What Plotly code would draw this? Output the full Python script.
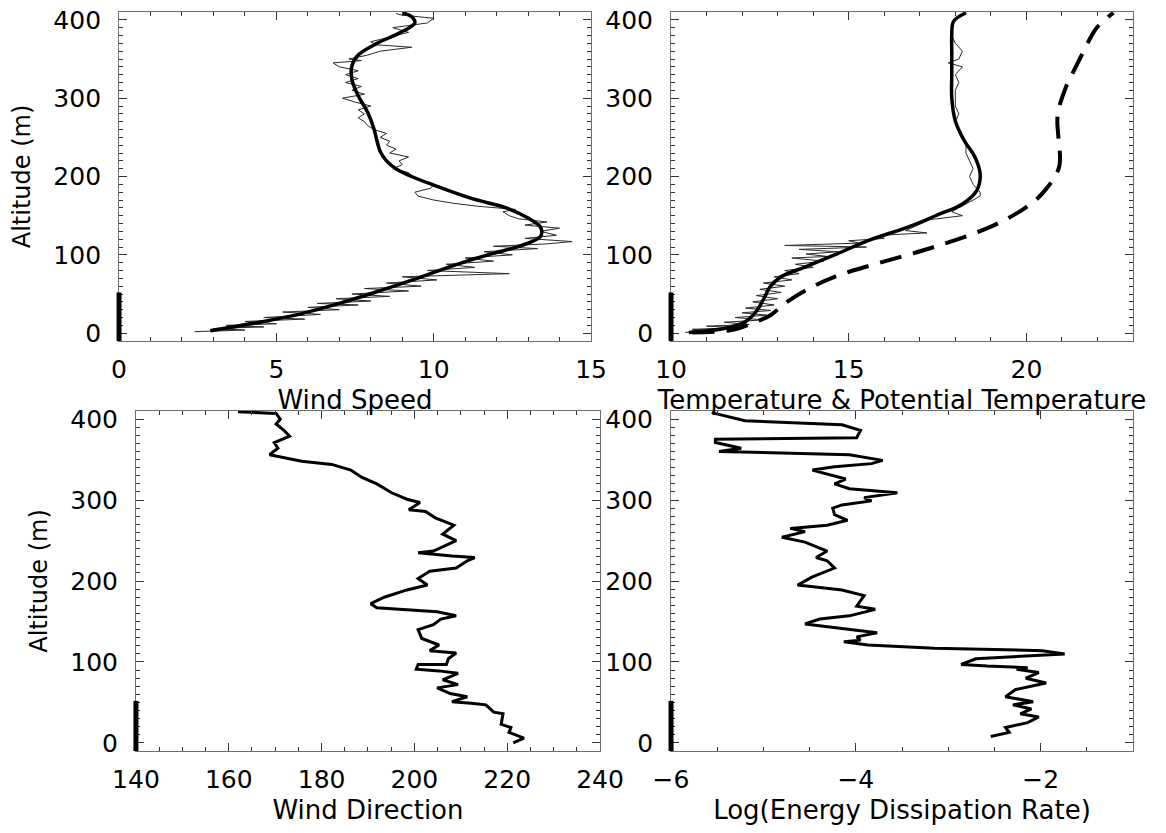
import plotly.graph_objects as go

# ---------------- Data ----------------
# Panel 1: wind speed (raw + smoothed fit)
ws_raw_alt = [2, 4, 6, 8, 10, 12, 15, 18, 20, 24, 27, 30, 33, 36, 38, 41, 44, 47, 50, 54,
              57, 60, 64, 68, 72, 76, 80, 84, 88, 92, 96, 100, 104, 108, 111, 114, 117, 121, 125, 130,
              134, 138, 142, 146, 150, 155, 158, 162, 166, 170, 175, 180, 185, 190, 195, 200, 205, 210, 215, 220,
              225, 230, 235, 240, 245, 250, 255, 260, 265, 270, 275, 280, 285, 290, 295, 300, 305, 310, 315, 320,
              325, 330, 335, 340, 345, 348, 350, 355, 360, 365, 368, 372, 378, 384, 390, 396, 402, 406, 408]
ws_raw = [2.4, 4.0, 3.0, 4.6, 3.4, 5.0, 4.0, 5.9, 4.6, 6.4, 5.2, 7.0, 6.0, 7.6, 6.3, 8.0, 6.9, 8.6, 7.4, 9.2,
          7.8, 9.6, 8.5, 10.1, 9.0, 12.4, 9.8, 11.3, 10.4, 11.9, 11.0, 12.5, 11.6, 13.3, 11.9, 13.6, 14.4, 12.9, 13.9, 13.4,
          14.0, 12.9, 13.6, 12.7, 12.4, 12.2, 12.6, 11.4, 10.6, 10.0, 9.5, 9.4, 9.9, 10.0, 9.6, 9.3, 9.2, 8.7, 9.0, 8.9,
          9.2, 8.6, 8.8, 8.5, 8.6, 8.3, 8.5, 8.1, 7.9, 7.8, 7.6, 7.8, 7.6, 8.0, 7.5, 7.1, 7.8, 7.4, 7.7, 7.2,
          7.6, 7.2, 7.6, 7.0, 6.8, 7.7, 7.3, 7.9, 8.3, 9.3, 8.2, 8.0, 8.6, 9.2, 8.7, 9.8, 10.0, 9.0, 8.8]
ws_fit_alt = [3, 15, 25, 38, 53, 69, 86, 101, 112, 124, 135, 147, 160, 172, 189, 200, 210, 220, 232, 245,
              261, 282, 303, 324, 341, 355, 370, 383, 396, 404, 409]
ws_fit = [2.9, 4.6, 5.8, 7.0, 8.2, 9.4, 10.6, 11.8, 12.8, 13.4, 13.4, 13.0, 12.3, 11.2, 10.0, 9.3, 8.8, 8.5, 8.3, 8.2,
          8.1, 7.9, 7.6, 7.4, 7.4, 7.6, 8.2, 8.9, 9.4, 9.3, 9.0]

# Panel 2: temperature (raw + fit) and potential temperature (dashed)
t_raw_alt = [1, 3, 5, 7, 9, 11, 14, 17, 20, 23, 26, 29, 32, 36, 40, 44, 48, 52, 56, 60,
             64, 68, 72, 76, 80, 84, 88, 92, 96, 98, 101, 104, 107, 110, 112, 115, 118, 121, 125, 128,
             131, 135, 140, 145, 150, 155, 160, 165, 170, 175, 180, 185, 190, 200, 210, 220, 230, 240, 250, 260,
             270, 280, 290, 300, 310, 320, 330, 340, 345, 350, 360, 370, 380, 390, 400, 408]
t_raw = [10.4, 11.3, 10.6, 11.9, 11.0, 12.2, 11.5, 12.6, 11.8, 12.7, 12.0, 12.8, 12.1, 12.9, 12.3, 13.0, 12.4, 13.1, 12.5, 13.2,
         12.6, 13.4, 12.9, 13.6, 13.2, 14.0, 13.5, 14.3, 13.4, 14.4, 13.8, 14.7, 13.6, 15.5, 13.2, 15.3, 15.0, 16.0, 15.9, 17.2,
         16.6, 16.8, 17.1, 17.3, 18.2, 17.9, 18.1, 18.3, 18.5, 18.7, 18.7, 18.6, 18.5, 18.4, 18.5, 18.4, 18.3, 18.3, 18.2, 18.1,
         18.0, 18.1, 18.0, 18.0, 18.0, 18.1, 18.0, 18.2, 17.8, 18.1, 18.2, 18.0, 17.9, 17.9, 18.0, 18.3]
t_fit_alt = [1, 6, 15, 28, 43, 60, 72, 85, 100, 119, 136, 151, 165, 182, 203, 225, 246, 271, 300,
             331, 361, 382, 398, 409]
t_fit = [10.5, 11.5, 12.1, 12.4, 12.6, 12.8, 13.1, 13.8, 14.6, 15.6, 16.7, 17.5, 18.2, 18.6, 18.7, 18.55, 18.25, 18.0, 17.9,
         17.9, 17.9, 17.9, 17.95, 18.3]
theta_alt = [1, 4, 13, 23, 38, 55, 72, 89, 110, 136, 161, 181, 212, 250, 270, 285, 300, 315, 330, 350, 370, 390, 409]
theta = [10.6, 11.7, 12.3, 12.8, 13.2, 13.8, 14.6, 15.8, 17.4, 19.0, 20.0, 20.5, 20.92, 20.9, 20.87, 20.9, 21.0, 21.12,
         21.28, 21.5, 21.72, 21.98, 22.45]

# Panel 3: wind direction
wd_alt = [0, 6, 13, 19, 23, 36, 38, 47, 49, 51, 57, 61, 68, 72, 78, 86, 89, 91, 97, 97,
          104, 111, 114, 121, 129, 140, 146, 153, 157, 162, 167, 172, 180, 189, 195, 203, 212, 216, 225, 229,
          231, 235, 237, 250, 258, 269, 278, 286, 288, 297, 301, 309, 320, 328, 337, 344, 348, 356, 364, 371,
          379, 386, 394, 400, 407, 409]
wd = [221.3, 223.6, 220.4, 220.8, 218.7, 219.1, 217.1, 215.4, 212.2, 208.1, 211.4, 207.7, 204.9, 209.4, 206.1, 209.4, 205.3, 200.4, 200.8, 206.9,
      207.3, 209.0, 203.3, 205.3, 201.6, 200.8, 204.1, 205.7, 209.0, 204.9, 191.9, 190.6, 193.5, 198.4, 202.8, 200.8, 203.3, 209.0, 211.4, 213.0,
      208.1, 200.8, 204.1, 209.0, 206.1, 208.5, 204.5, 202.4, 198.8, 201.2, 198.4, 195.1, 191.9, 188.7, 186.3, 182.2, 175.7, 168.8, 170.6, 169.8,
      173.1, 171.9, 170.2, 171.1, 170.2, 162.0]

# Panel 4: log energy dissipation rate
ed_alt = [8, 13, 19, 25, 32, 36, 42, 47, 51, 57, 66, 74, 80, 87, 91, 93, 95, 97, 104, 108,
          110, 114, 117, 121, 125, 127, 131, 136, 140, 144, 147, 153, 157, 165, 169, 182, 189, 195, 205, 216,
          225, 229, 237, 248, 254, 261, 265, 269, 275, 282, 290, 294, 299, 303, 309, 314, 320, 326, 337, 341,
          345, 349, 356, 360, 364, 371, 375, 377, 386, 393, 398, 408]
ed = [-2.54, -2.34, -2.38, -2.14, -2.02, -2.22, -2.10, -2.30, -2.08, -2.38, -2.27, -1.94, -2.16, -2.02, -2.26, -2.14, -2.58, -2.86, -2.70, -2.14,
      -1.74, -1.98, -3.15, -3.87, -4.13, -3.95, -3.99, -3.77, -4.07, -4.39, -4.55, -4.39, -4.07, -3.79, -3.99, -3.91, -4.15, -4.63, -4.47, -4.23,
      -4.31, -4.43, -4.31, -4.55, -4.80, -4.55, -4.71, -4.31, -4.09, -4.23, -4.25, -4.15, -3.83, -3.91, -3.55, -4.07, -4.23, -4.11, -4.47, -4.23,
      -3.83, -3.71, -4.07, -5.48, -5.24, -5.52, -5.52, -3.99, -3.95, -4.15, -5.20, -5.56]

# Vertical black bar drawn at the left axis of every panel (altitude span)
bar_alt = [-10, 52]

x_titles = ["Wind Speed", "Temperature & Potential Temperature", "Wind Direction", "Log(Energy Dissipation Rate)"]
y_title = "Altitude (m)"
x_ranges = [[0, 15], [10, 23], [140, 240], [-6, -1]]
x_major = [5, 5, 20, 2]
x_minor = [1, 1, 5, 0.5]
y_range = [-10, 410]

# ---------------- Figure ----------------
FONT = "DejaVu Sans"
fig = go.Figure()

thin = dict(color="#2a2a2a", width=1)
thick = dict(color="black", width=3.5)

fig.add_trace(go.Scatter(x=ws_raw, y=ws_raw_alt, mode="lines", line=thin, xaxis="x", yaxis="y"))
fig.add_trace(go.Scatter(x=ws_fit, y=ws_fit_alt, mode="lines", line=dict(thick, shape="spline", smoothing=1.0), xaxis="x", yaxis="y"))

fig.add_trace(go.Scatter(x=t_raw, y=t_raw_alt, mode="lines", line=thin, xaxis="x2", yaxis="y2"))
fig.add_trace(go.Scatter(x=t_fit, y=t_fit_alt, mode="lines", line=dict(thick, shape="spline", smoothing=1.0), xaxis="x2", yaxis="y2"))
fig.add_trace(go.Scatter(x=theta, y=theta_alt, mode="lines",
                         line=dict(color="black", width=4, dash="22px,12px", shape="spline", smoothing=1.0),
                         xaxis="x2", yaxis="y2"))

fig.add_trace(go.Scatter(x=wd, y=wd_alt, mode="lines", line=dict(color="black", width=3), xaxis="x3", yaxis="y3"))
fig.add_trace(go.Scatter(x=ed, y=ed_alt, mode="lines", line=dict(color="black", width=3), xaxis="x4", yaxis="y4"))

x_domains = [[0.1021, 0.5069], [0.5755, 0.9717], [0.1166, 0.5146], [0.5755, 0.9717]]
y_domains = [[0.5906, 0.9856], [0.5906, 0.9856], [0.0984, 0.5066], [0.0984, 0.5066]]

common = dict(
    showline=True, linecolor="#6e6e6e", linewidth=1, mirror="ticks",
    ticks="inside", ticklen=8, tickwidth=1, tickcolor="#333333",
    showgrid=False, zeroline=False, automargin=False,
    tickfont=dict(family=FONT, size=25, color="black"),
)

layout = dict(
    template="none",
    width=1166, height=833,
    margin=dict(l=0, r=0, t=0, b=0, autoexpand=False),
    paper_bgcolor="white", plot_bgcolor="white",
    showlegend=False,
    font=dict(family=FONT, color="black"),
)

for i in range(4):
    sx = "" if i == 0 else str(i + 1)
    xa = dict(common)
    xa.update(
        domain=x_domains[i], anchor="y" + sx, range=x_ranges[i],
        tick0=x_ranges[i][0], dtick=x_major[i],
        minor=dict(ticks="inside", ticklen=4, tickcolor="#333333", dtick=x_minor[i], showgrid=False),
        title=dict(text=x_titles[i], font=dict(family=FONT, size=26, color="black"), standoff=7),
        ticklabelstandoff=6,
    )
    ya = dict(common)
    ya.update(
        domain=y_domains[i], anchor="x" + sx, range=y_range,
        tick0=0, dtick=100,
        minor=dict(ticks="inside", ticklen=4, tickcolor="#333333", dtick=10, showgrid=False),
        ticklabelstandoff=12,
    )
    if i in (0, 2):
        ya["title"] = dict(text=y_title, font=dict(family=FONT, size=24, color="black"), standoff=15)
    layout["xaxis" + sx] = xa
    layout["yaxis" + sx] = ya

fig.update_layout(**layout)

for i in range(4):
    sx = "" if i == 0 else str(i + 1)
    fig.add_shape(type="line", xref="x" + sx + " domain", yref="y" + sx,
                  x0=0, x1=0, y0=bar_alt[0], y1=bar_alt[1],
                  line=dict(color="black", width=5), layer="above")

fig.write_html("out.html")
